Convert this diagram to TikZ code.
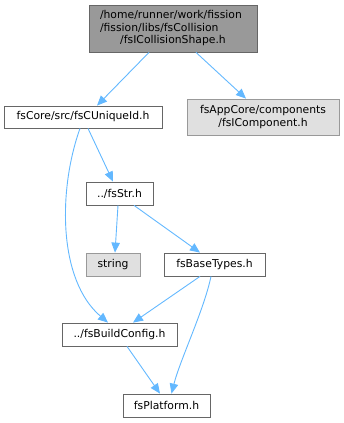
\documentclass[tikz,border=0pt]{standalone}
\usepackage{fontspec}
\setmainfont{DejaVu Sans}
\usetikzlibrary{arrows.meta}
\definecolor{edgeblue}{HTML}{63B8FF}
\definecolor{boxline}{HTML}{666666}
\definecolor{greyline}{HTML}{999999}
\definecolor{topfill}{HTML}{999999}
\definecolor{extfill}{HTML}{E0E0E0}
\tikzset{
  filebox/.style={draw=boxline, fill=white, line width=0.8pt, inner sep=0pt, align=center,
    font=\fontsize{10.8pt}{12.5pt}\selectfont},
  extbox/.style={filebox, draw=greyline, fill=extfill},
  topbox/.style={filebox, fill=topfill},
  dep/.style={draw=edgeblue, line width=0.9pt, -{Triangle[length=10pt,width=8.5pt]}},
}
\begin{document}
\begin{tikzpicture}[x=1pt,y=-1pt]
\useasboundingbox (0,0) rectangle (343,423);
\node[topbox, minimum width=168pt, minimum height=47pt] (top) at (173,28.5)
  {\begin{minipage}{146pt}\raggedright /home/runner/work/fission\\/fission/libs/fsCollision\\\hbox to\linewidth{\hfil/fsICollisionShape.h\hfil}\end{minipage}};
\node[filebox, minimum width=158pt, minimum height=22pt] (uniq) at (83,117) {fsCore/src/fsCUniqueId.h};
\node[extbox, minimum width=152pt, minimum height=36pt] (comp) at (263,117) {fsAppCore/components\\/fsIComponent.h};
\node[filebox, minimum width=67pt, minimum height=23pt] (str) at (119.5,193.5) {../fsStr.h};
\node[extbox, minimum width=54pt, minimum height=23pt] (string) at (113,264.5) {string};
\node[filebox, minimum width=101pt, minimum height=23pt] (base) at (214.5,264.5) {fsBaseTypes.h};
\node[filebox, minimum width=115pt, minimum height=23pt] (build) at (119.5,334.5) {../fsBuildConfig.h};
\node[filebox, minimum width=87pt, minimum height=23pt] (plat) at (166.5,405.5) {fsPlatform.h};

\draw[dep] ([xshift=-24pt]top.south) -- ([xshift=14pt]uniq.north);
\draw[dep] ([xshift=23pt]top.south) -- ([xshift=-17pt]comp.north);
\draw[dep] ([xshift=5pt]uniq.south) -- ([xshift=-6.5pt]str.north);
\draw[dep] ([xshift=-3pt]uniq.south) .. controls (58,190) and (58,280) .. ([xshift=-11.5pt]build.north);
\draw[dep] ([xshift=-1.5pt]str.south) -- ([xshift=2pt]string.north);
\draw[dep] ([xshift=14.5pt]str.south) -- ([xshift=-14.5pt]base.north);
\draw[dep] ([xshift=-14.5pt]base.south) -- ([xshift=13.5pt]build.north);
\draw[dep] ([xshift=-3.5pt]base.south) .. controls (204,310) and (180,360) .. ([xshift=5pt]plat.north);
\draw[dep] ([xshift=7.5pt]build.south) -- ([xshift=-6.5pt]plat.north);
\end{tikzpicture}
\end{document}
